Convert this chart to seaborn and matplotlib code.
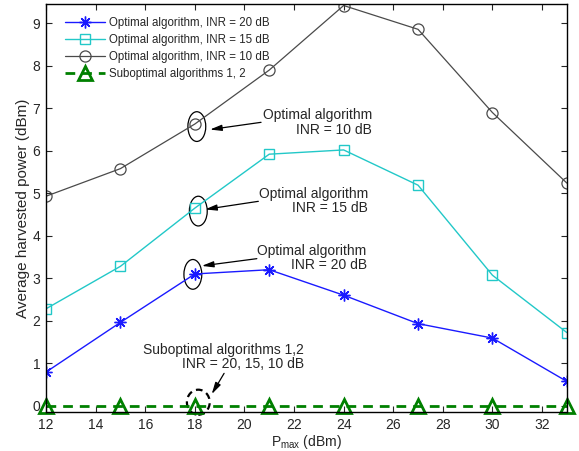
import matplotlib
matplotlib.use('Agg')
import matplotlib.pyplot as plt
import numpy as np
import pandas as pd
import seaborn as sns
from matplotlib.patches import Ellipse


P_MAX = [12, 15, 18, 21, 24, 27, 30, 33]
OPT_INR20 = [0.79, 1.96, 3.10, 3.20, 2.60, 1.93, 1.59, 0.57]
OPT_INR15 = [2.28, 3.28, 4.65, 5.92, 6.02, 5.19, 3.07, 1.72]
OPT_INR10 = [4.93, 5.58, 6.63, 7.90, 9.42, 8.86, 6.90, 5.24]
SUBOPT = [0.0, 0.0, 0.0, 0.0, 0.0, 0.0, 0.0, 0.0]

LABELS = ['Optimal algorithm, INR = 20 dB',
          'Optimal algorithm, INR = 15 dB',
          'Optimal algorithm, INR = 10 dB',
          'Suboptimal algorithms 1, 2']

SET_DPI = 100
FIGSIZE = (5.79, 4.51)
ARROW = '-|>,head_length=0.7,head_width=0.18'

sns.set_style('ticks')
plt.rcParams['font.family'] = ['Liberation Sans', 'DejaVu Sans']
plt.rcParams['mathtext.default'] = 'regular'

fig = plt.figure(figsize=FIGSIZE, dpi=SET_DPI)
ax = fig.add_axes([0.0795, 0.0865, 0.8995, 0.905])

sns.lineplot(x=P_MAX, y=OPT_INR20, ax=ax, color='#1a1aff', lw=1.0,
             marker=(8, 2, 0), markersize=8.5, markeredgewidth=1.0,
             markeredgecolor='#1a1aff', label=LABELS[0])
sns.lineplot(x=P_MAX, y=OPT_INR15, ax=ax, color='#22c8c8', lw=1.0,
             marker='s', markersize=7, markerfacecolor='none',
             markeredgewidth=1.0, markeredgecolor='#22c8c8', label=LABELS[1])
sns.lineplot(x=P_MAX, y=OPT_INR10, ax=ax, color='#4a4a4a', lw=0.9,
             marker='o', markersize=8, markerfacecolor='none',
             markeredgewidth=0.9, markeredgecolor='#4a4a4a', label=LABELS[2])
sns.lineplot(x=P_MAX, y=SUBOPT, ax=ax, color='#008000', lw=2.0,
             linestyle=(0, (3.5, 2.5)), marker='^', markersize=10,
             markerfacecolor='none', markeredgewidth=2.0,
             markeredgecolor='#008000', label=LABELS[3], clip_on=False)

ax.set_xlim(12, 33)
ax.set_ylim(-0.15, 9.46)
ax.set_xticks(np.arange(12, 33, 2))
ax.set_yticks(np.arange(0, 10, 1))
ax.tick_params(direction='in', top=True, right=True, labelsize=10,
               length=4, width=0.8, pad=4)
for sp in ax.spines.values():
    sp.set_linewidth(1.0)
    sp.set_color('black')

ax.set_xlabel('P$_{max}$ (dBm)', fontsize=10, labelpad=1)
ax.set_ylabel('Average harvested power (dBm)', fontsize=11, labelpad=2)

leg = ax.legend(loc='upper left', bbox_to_anchor=(0.0277, 0.978),
                frameon=False, fontsize=8.3, handlelength=3.5,
                labelspacing=0.42, borderaxespad=0.0, handletextpad=0.35)

# Annotations: ellipse around a point, arrow, right-aligned note
notes = [
    ('Optimal algorithm\nINR = 10 dB', (25.15, 6.66), (20.67, 6.67), (18.61, 6.50), (18.08, 6.57)),
    ('Optimal algorithm\nINR = 15 dB', (24.98, 4.82), (20.56, 4.81), (18.41, 4.62), (18.14, 4.58)),
    ('Optimal algorithm\nINR = 20 dB', (24.93, 3.48), (20.50, 3.46), (18.28, 3.29), (17.92, 3.09)),
]
for txt, tpos, tail, head, ctr in notes:
    ax.text(tpos[0], tpos[1], txt, ha='right', va='center', fontsize=10,
            multialignment='right', linespacing=1.05)
    ax.annotate('', xy=head, xytext=tail,
                arrowprops=dict(arrowstyle=ARROW, color='black', lw=0.9,
                                shrinkA=0, shrinkB=0))
    ax.add_patch(Ellipse(ctr, 0.72, 0.70, fill=False, ec='black', lw=0.9))

ax.text(22.4, 1.14, 'Suboptimal algorithms 1,2\nINR = 20, 15, 10 dB',
        ha='right', va='center', fontsize=10, multialignment='right',
        linespacing=1.05)
ax.annotate('', xy=(18.68, 0.27), xytext=(19.18, 0.76),
            arrowprops=dict(arrowstyle=ARROW, color='black', lw=0.9,
                            shrinkA=0, shrinkB=0))
ax.add_patch(Ellipse((18.14, 0.08), 0.92, 0.59, fill=False, ec='black',
                     lw=1.6, ls=(0, (3, 2)), clip_on=False))

fig.savefig('out.png', dpi=SET_DPI)
plt.close(fig)
